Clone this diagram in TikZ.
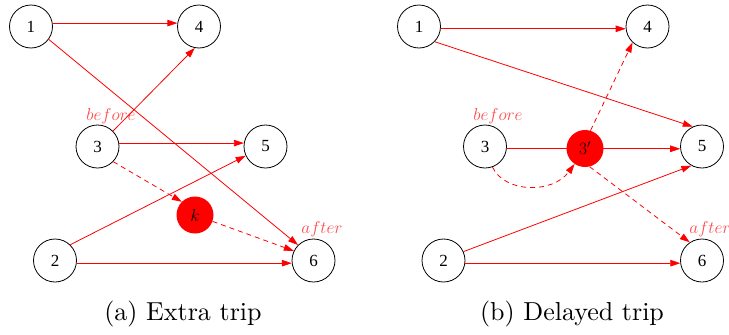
\documentclass[tikz,border=0pt]{standalone}
\usepackage{fontspec}
\newfontfamily\nodefont{Liberation Serif}
\newfontfamily\capfont[Extension=.otf]{lmroman10-regular}
\usetikzlibrary{arrows.meta}
\begin{document}
\begin{tikzpicture}[x=1pt,y=-1pt,
  vert/.style={circle,draw=black,line width=0.8pt,minimum size=43pt,inner sep=0pt,font=\nodefont\fontsize{17}{17}\selectfont},
  extranode/.style={circle,fill=red,minimum size=37pt,inner sep=0pt,font=\fontsize{18}{18}\selectfont},
  link/.style={draw=red,line width=0.8pt,-{Triangle[length=10pt,width=6.5pt]}},
  dlink/.style={link,dash pattern=on 5pt off 4pt},
  notelabel/.style={text=red!70,font=\fontsize{16}{16}\selectfont},
  captext/.style={font=\capfont\fontsize{26}{30}\selectfont,anchor=base}]
\useasboundingbox (0,0) rectangle (729,335);
% ---- (a) Extra trip
\node[vert] (a1) at (31,26.5) {1};
\node[vert] (a4) at (199,26.5) {4};
\node[vert] (a3) at (97.5,146.5) {3};
\node[vert] (a5) at (265.5,146.5) {5};
\node[vert] (a2) at (55,260.5) {2};
\node[vert] (a6) at (313.5,260.5) {6};
\node[extranode] (ak) at (195,215) {$k$};
\node[notelabel] (abefore) at (111,116) {$before$};
\node[notelabel] (aafter) at (322,229) {$after$};
\path[link] (a1.9) -- (a4.171);
\path[link] (a1.-36) -- (a6.135);
\path[link] (a3.45) -- (a4.-101);
\path[link] (a3.9) -- (a5.171);
\path[dlink] (a3.-44) -- (ak.135);
\path[link] (a2.46) -- (a5.205);
\path[dlink] (ak.-20) -- (a6.154);
\path[link] (a2.-7) -- (a6.187);
\node[captext] (capa) at (183,320) {(a) Extra trip};
% ---- (b) Delayed trip
\node[vert] (b1) at (419,26.5) {1};
\node[vert] (b4) at (647.5,26.5) {4};
\node[vert] (b3) at (485,146.5) {3};
\node[vert] (b5) at (702,146.5) {5};
\node[vert] (b2) at (443.5,260.5) {2};
\node[vert] (b6) at (702,260.5) {6};
\node[notelabel] (bbefore) at (498,116) {$before$};
\node[notelabel] (bafter) at (710,229) {$after$};
\path[link] (b1.-6.5) -- (b4.186.5);
\path[link] (b1.-44) -- (b5.115);
\path[link] (b3.-6.5) -- (b5.186.5);
\node[extranode] (b3p) at (585,148.5) {$3'$};
\path[dlink] (b3p.73) -- (b4.227);
\path[dlink] (b3.-70) .. controls +(12,26) and +(-22,30) .. (b3p.236);
\path[dlink] (b3p.-76) -- (b6.124);
\path[link] (b2.24) -- (b5.241);
\path[link] (b2.-7) -- (b6.187);
\node[captext] (capb) at (572,320) {(b) Delayed trip};
\end{tikzpicture}
\end{document}
